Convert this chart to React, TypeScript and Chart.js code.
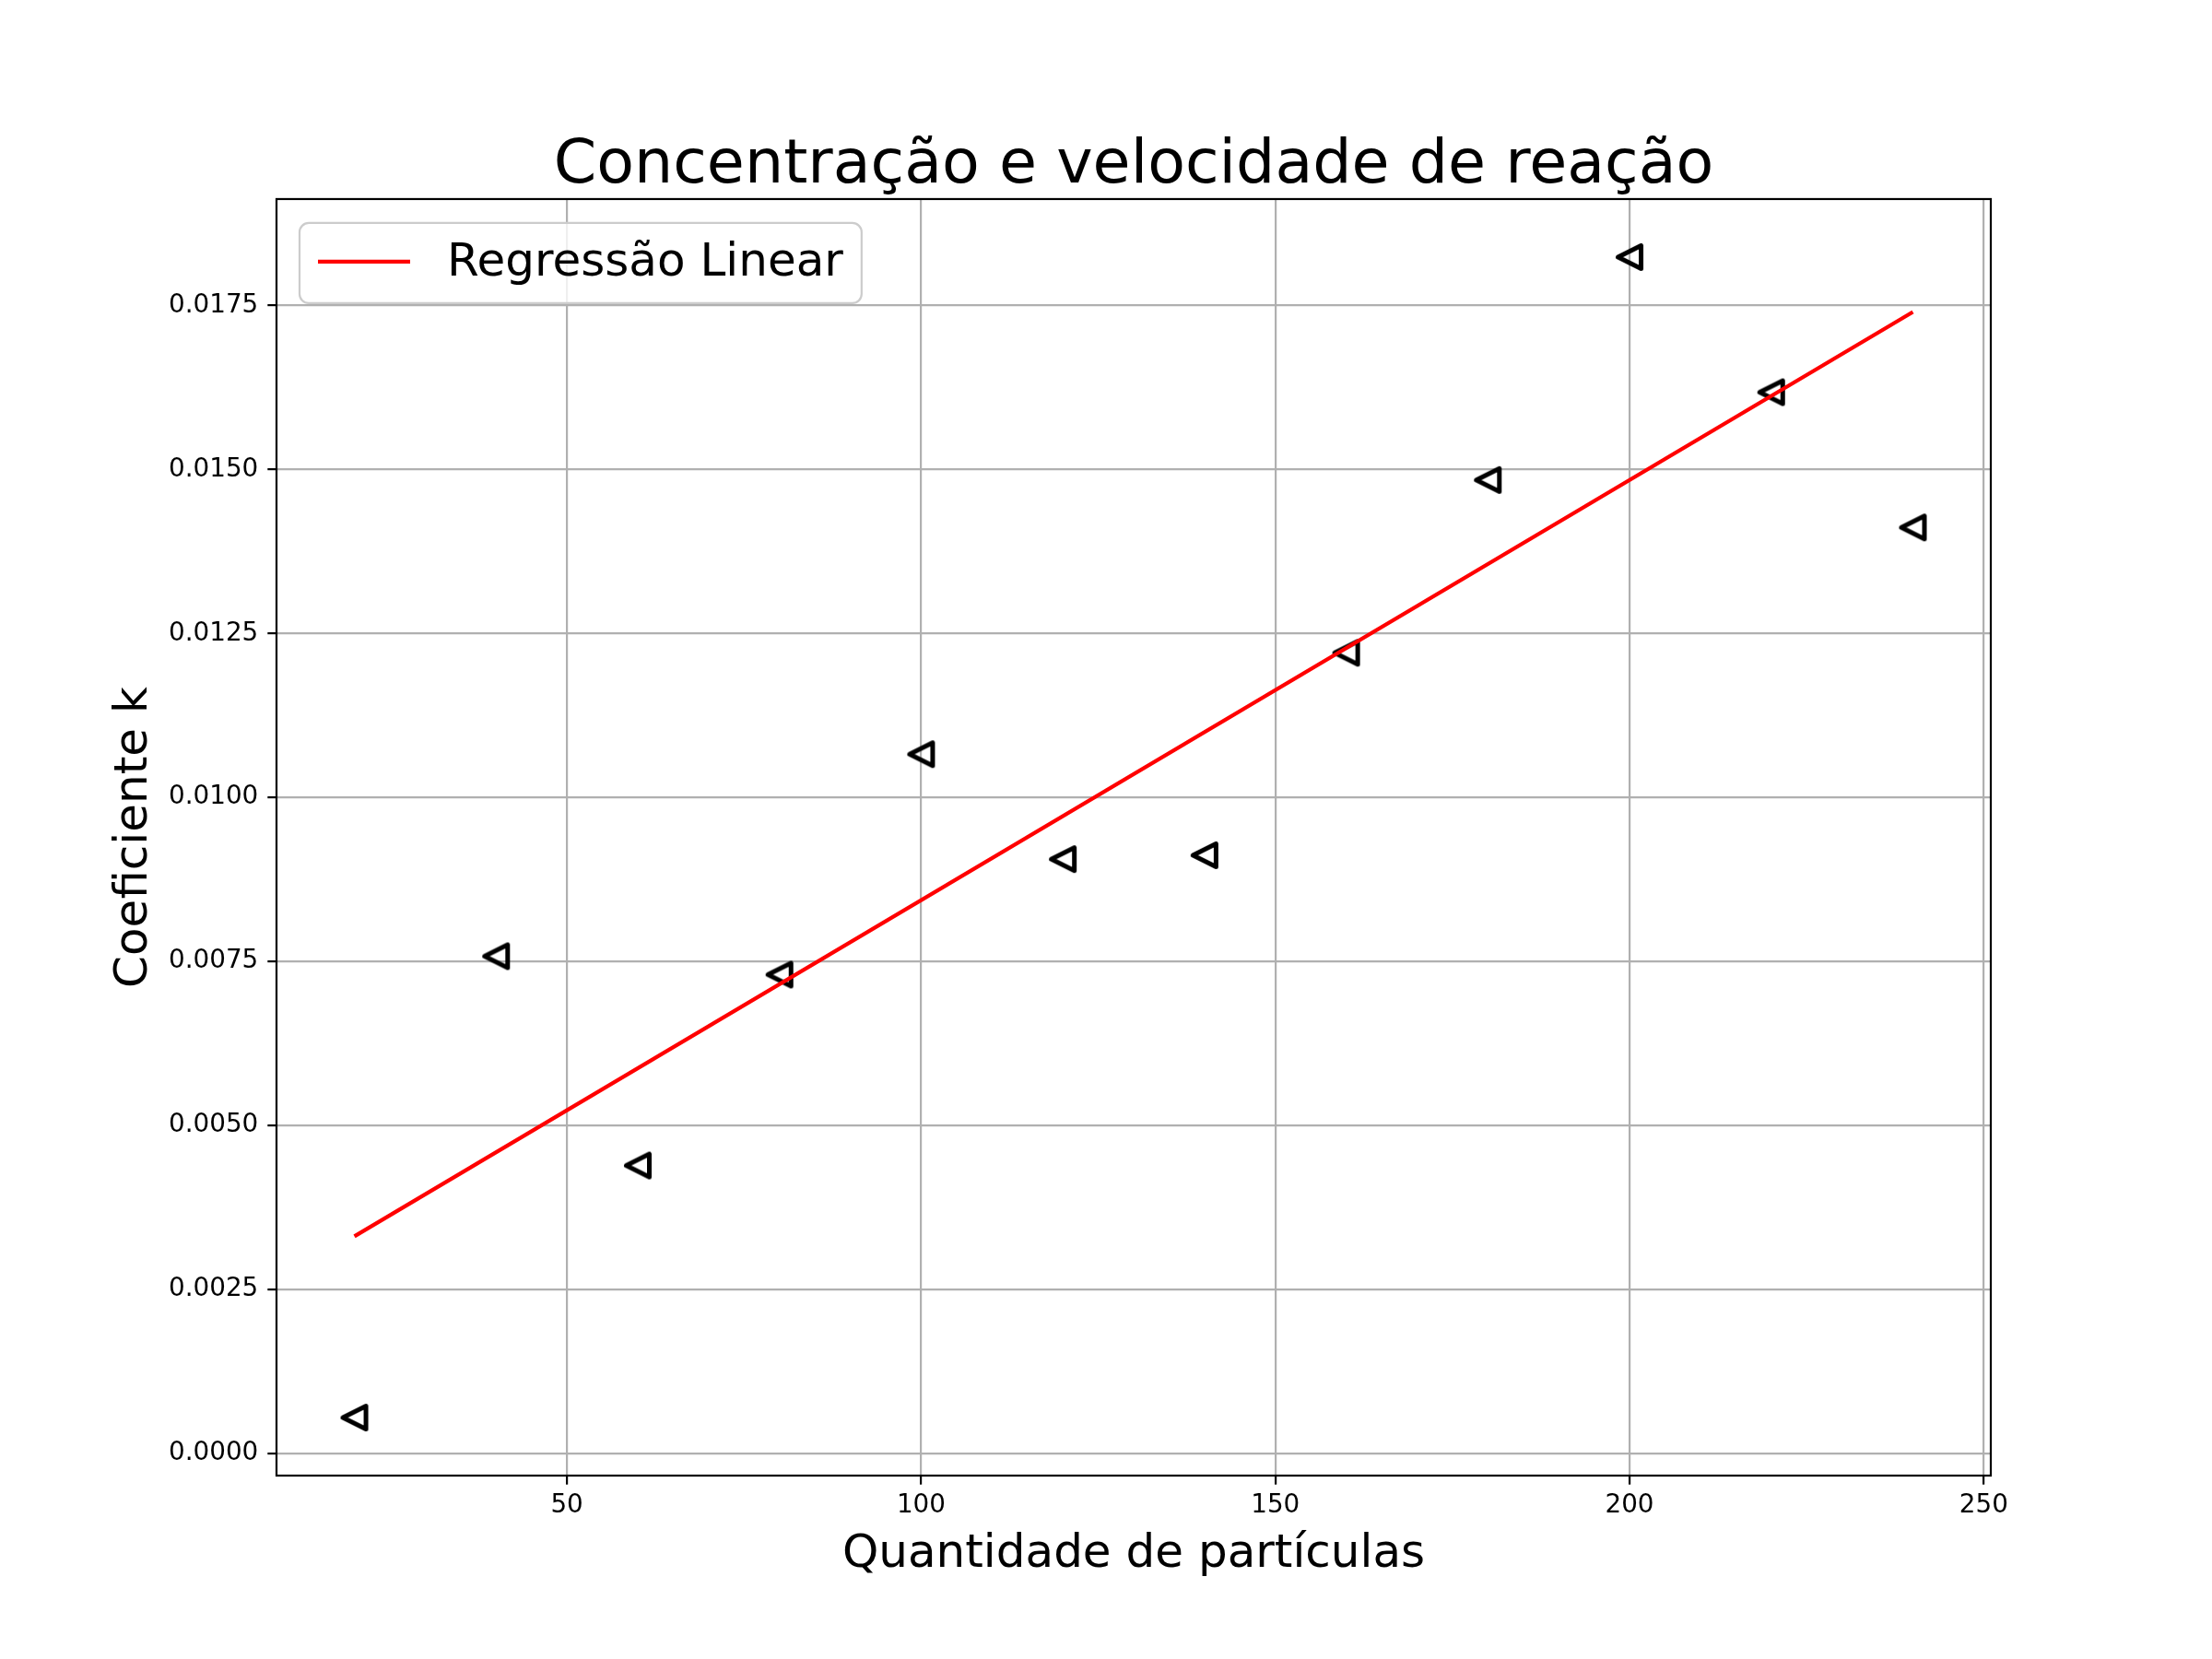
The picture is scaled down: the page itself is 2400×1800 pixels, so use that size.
import React, { useEffect, useRef } from 'react';
import { Chart, registerables } from 'chart.js';

Chart.register(...registerables);

// ---- data ----
const particleCounts = [20, 40, 60, 80, 100, 120, 140, 160, 180, 200, 220, 240];
const kValues = [0.000547, 0.00758, 0.00439, 0.0073, 0.01066, 0.00906, 0.00912, 0.012205, 0.01484, 0.018238, 0.016178, 0.014116];
const regressionX = [20, 240];
const regressionY = [0.00331, 0.0174];
const xTicks = [50, 100, 150, 200, 250];
const yTicks = [0, 0.0025, 0.005, 0.0075, 0.01, 0.0125, 0.015, 0.0175];

const titleText = 'Concentração e velocidade de reação';
const xLabel = 'Quantidade de partículas';
const yLabel = 'Coeficiente k';
const legendLabel = 'Regressão Linear';
const scatterLabel = 'Dados';

const FAMILY = '"DejaVu Sans", Verdana, sans-serif';

function makeMarker(): HTMLCanvasElement {
  const c = document.createElement('canvas');
  c.width = 40;
  c.height = 40;
  const g = c.getContext('2d')!;
  const cx = 20, cy = 20, h = 12.5;
  g.beginPath();
  g.moveTo(cx - h, cy);
  g.lineTo(cx + h, cy - h);
  g.lineTo(cx + h, cy + h);
  g.closePath();
  g.lineWidth = 5;
  g.lineJoin = 'round';
  g.strokeStyle = '#000000';
  g.stroke();
  return c;
}

const framePlugin = {
  id: 'mplFrame',
  afterDatasetsDraw(chart: any) {
    const { ctx, chartArea } = chart;
    ctx.save();
    ctx.strokeStyle = '#000000';
    ctx.lineWidth = 2.2;
    ctx.strokeRect(chartArea.left, chartArea.top, chartArea.right - chartArea.left, chartArea.bottom - chartArea.top);
    ctx.restore();
  },
};

const legendPlugin = {
  id: 'mplLegend',
  afterDraw(chart: any) {
    const { ctx, chartArea } = chart;
    const ds = chart.data.datasets[0];
    const fontSize = 50;
    ctx.save();
    ctx.font = `${fontSize}px ${FAMILY}`;
    const textW = ctx.measureText(ds.label).width;
    const bx = chartArea.left + 25;
    const by = chartArea.top + 26;
    const pad = 20;
    const handle = 100;
    const gap = 40;
    const bw = pad + handle + gap + textW + pad;
    const bh = 87;
    ctx.beginPath();
    if ((ctx as any).roundRect) {
      (ctx as any).roundRect(bx, by, bw, bh, 10);
    } else {
      ctx.rect(bx, by, bw, bh);
    }
    ctx.fillStyle = 'rgba(255,255,255,0.8)';
    ctx.fill();
    ctx.strokeStyle = '#cccccc';
    ctx.lineWidth = 2.2;
    ctx.stroke();
    // handle line
    ctx.beginPath();
    ctx.moveTo(bx + pad, by + 42);
    ctx.lineTo(bx + pad + handle, by + 42);
    ctx.strokeStyle = ds.borderColor;
    ctx.lineWidth = ds.borderWidth;
    ctx.stroke();
    // text
    ctx.fillStyle = '#000000';
    ctx.textAlign = 'left';
    ctx.textBaseline = 'middle';
    ctx.fillText(ds.label, bx + pad + handle + gap, by + 44);
    ctx.restore();
  },
};

export default function App() {
  const ref = useRef<HTMLCanvasElement>(null);

  useEffect(() => {
    document.body.style.margin = '0';
    const canvas = ref.current!;
    const marker = makeMarker();

    const xMinD = Math.min(...particleCounts);
    const xMaxD = Math.max(...particleCounts);
    const xPad = 0.05 * (xMaxD - xMinD);
    const yMinD = Math.min(...kValues);
    const yMaxD = Math.max(...kValues);
    const yPad = 0.05 * (yMaxD - yMinD);

    const tickFont = { family: FAMILY, size: 27.8 };
    const labelFont = { family: FAMILY, size: 50 };

    const chart = new Chart(canvas, {
      type: 'scatter',
      data: {
        datasets: [
          {
            type: 'line',
            label: legendLabel,
            data: regressionX.map((x, i) => ({ x, y: regressionY[i] })),
            borderColor: '#ff0000',
            borderWidth: 4.2,
            pointRadius: 0,
            pointHoverRadius: 0,
            fill: false,
            tension: 0,
            order: 0,
          } as any,
          {
            type: 'scatter',
            label: scatterLabel,
            data: particleCounts.map((x, i) => ({ x, y: kValues[i] })),
            pointStyle: marker,
            pointRadius: 14,
            pointHoverRadius: 14,
            borderWidth: 0,
            order: 1,
          } as any,
        ],
      },
      options: {
        responsive: false,
        animation: false,
        events: [],
        layout: { padding: { left: 0, right: 240, top: 0, bottom: 0 } },
        plugins: {
          legend: { display: false },
          tooltip: { enabled: false },
          title: {
            display: true,
            text: titleText,
            fullSize: false,
            color: '#000000',
            font: { family: FAMILY, size: 66.67, weight: 'normal', lineHeight: 1.0 },
            padding: { top: 147, bottom: 2.3 },
          },
        },
        scales: {
          x: {
            type: 'linear',
            position: 'bottom',
            min: xMinD - xPad,
            max: xMaxD + xPad,
            afterBuildTicks: (s: any) => {
              s.ticks = xTicks.map((v) => ({ value: v }));
            },
            afterFit: (s: any) => {
              s.height = 199;
            },
            ticks: {
              color: '#000000',
              font: tickFont,
              padding: 6,
              maxRotation: 0,
              autoSkip: false,
              callback: (v: any) => String(v),
            },
            grid: {
              color: '#b0b0b0',
              lineWidth: 2.2,
              drawTicks: true,
              tickColor: '#000000',
              tickLength: 9.7,
              tickWidth: 2.2,
            },
            border: { display: false },
            title: {
              display: true,
              text: xLabel,
              color: '#000000',
              font: labelFont,
              padding: { top: 0, bottom: 82.5 },
            },
          },
          y: {
            type: 'linear',
            position: 'left',
            min: yMinD - yPad,
            max: yMaxD + yPad,
            afterBuildTicks: (s: any) => {
              s.ticks = yTicks.map((v) => ({ value: v }));
            },
            afterFit: (s: any) => {
              s.width = 300;
            },
            ticks: {
              color: '#000000',
              font: tickFont,
              padding: 10,
              autoSkip: false,
              callback: (v: any) => Number(v).toFixed(4),
            },
            grid: {
              color: '#b0b0b0',
              lineWidth: 2.2,
              drawTicks: true,
              tickColor: '#000000',
              tickLength: 9.7,
              tickWidth: 2.2,
            },
            border: { display: false },
            title: {
              display: true,
              text: yLabel,
              color: '#000000',
              font: labelFont,
              padding: { top: 116.5, bottom: 0 },
            },
          },
        },
      } as any,
      plugins: [framePlugin, legendPlugin],
    });

    return () => chart.destroy();
  }, []);

  return (
    <div style={{ width: 2400, height: 1800, background: '#ffffff' }}>
      <canvas ref={ref} width={2400} height={1800} style={{ display: 'block' }} />
    </div>
  );
}
